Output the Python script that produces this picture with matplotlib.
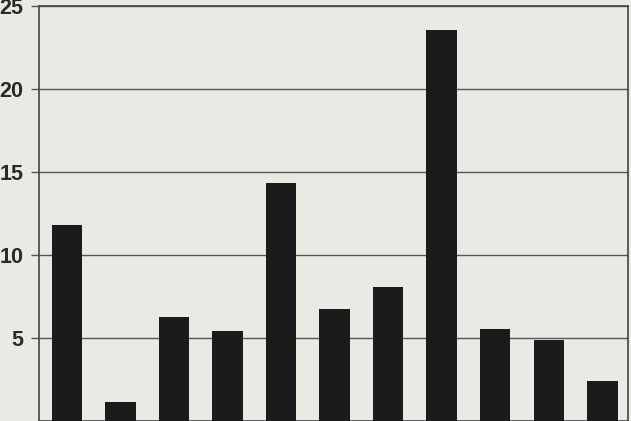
import matplotlib
matplotlib.use("Agg")
import matplotlib.pyplot as plt

categories = list(range(11))
values = [11.8, 1.14, 6.23, 5.42, 14.31, 6.73, 8.08, 23.56, 5.51, 4.86, 2.41]
yticks = [5, 10, 15, 20, 25]

bg = "#ebe9e4"
fig = plt.figure(figsize=(6.31, 4.21), dpi=100, facecolor=bg)
W, H = 631, 421
ax = fig.add_axes([39 / W, (421 - 420.6) / H, (628 - 39) / W, (420.6 - 6) / H])
ax.set_facecolor(bg)
ax.bar(categories, values, width=0.57, color="#1c1a1a", zorder=3)
ax.set_xlim(-0.523, 10.48)
ax.set_ylim(0, 25)
ax.set_yticks(yticks)
ax.set_yticklabels([str(t) for t in yticks], fontsize=15.5, fontfamily="Liberation Sans",
                   fontweight="bold", color="#2a2a2a")
ax.set_xticks([])
ax.grid(axis="y", color="#555555", linewidth=1.0, zorder=1)
for s in ["left", "right", "top", "bottom"]:
    ax.spines[s].set_color("#444444")
    ax.spines[s].set_linewidth(1.2)
ax.tick_params(axis="y", length=6, width=1.0, color="#555555", pad=5)
fig.savefig("out.png", dpi=100, facecolor=bg)
